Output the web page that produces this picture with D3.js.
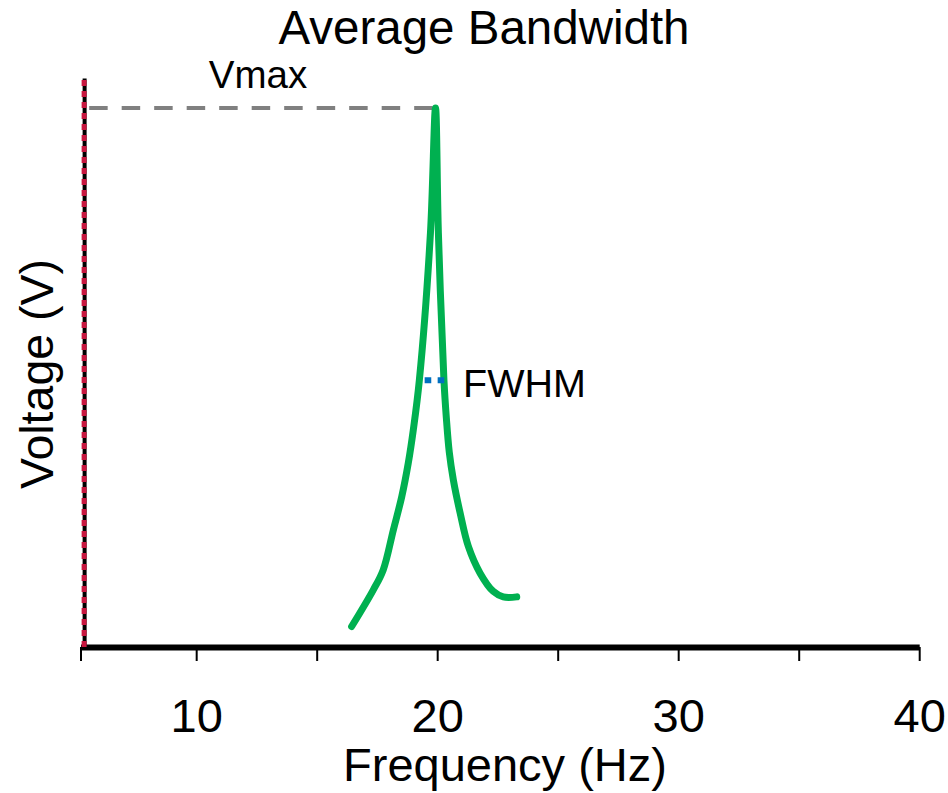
<!DOCTYPE html>
<html>
<head>
<meta charset="utf-8">
<script src="https://cdn.jsdelivr.net/npm/d3@7"></script>
<style>
  body { margin: 0; background: #fff; }
  text { font-family: "Liberation Sans", Arial, sans-serif; fill: #000; }
</style>
</head>
<body>
<div id="graph"></div>
<script>
// chart data (voltage normalised so that Vmax = 1)
const freqHz  = [16.45, 17.35, 17.76, 18.18, 18.53, 18.80, 19.01, 19.26, 19.72, 19.93, 20.05, 20.28, 20.38, 20.50, 20.67, 20.95, 21.29, 21.78, 22.33, 22.74, 23.30];
const voltage = [0.038, 0.106, 0.143, 0.217, 0.279, 0.341, 0.403, 0.495, 0.768, 1.000, 0.768, 0.495, 0.425, 0.362, 0.310, 0.249, 0.187, 0.137, 0.103, 0.093, 0.093];

const xTicks = [10, 15, 20, 25, 30, 35, 40];
const xTickLabels = ['10', '', '20', '', '30', '', '40'];
const xDomain = [5.2, 40];
const yDomain = [0, 1.0557];
const yAxisAt = 5.35;

const vMax = 1.0;
const vMaxFrom = 5.56;
const peakFreq = 19.93;
const halfMax = 0.495;
const fwhmRange = [19.48, 20.30];

const w = 948;
const h = 793;

const svg = d3.select('#graph')
              .append('svg')
              .attr('width', w)
              .attr('height', h);

const xScale = d3.scaleLinear().domain(xDomain).range([80.5, 919.2]);
const yScale = d3.scaleLinear().domain(yDomain).range([647, 78]);

// title
svg.append('text')
   .attr('x', 484)
   .attr('y', 44)
   .attr('text-anchor', 'middle')
   .style('font-size', '47.5px')
   .text('Average Bandwidth');

// x axis
const xAxis = d3.axisBottom(xScale)
                .tickValues([xDomain[0]].concat(xTicks))
                .tickFormat(d => { const i = xTicks.indexOf(d); return i < 0 ? '' : xTickLabels[i]; })
                .tickSize(14)
                .tickSizeOuter(0)
                .tickPadding(38);

const gx = svg.append('g')
   .attr('transform', 'translate(0,' + yScale(0) + ')')
   .call(xAxis);
gx.select('.domain').attr('stroke', '#000').attr('stroke-width', 6);
gx.selectAll('.tick line').attr('stroke', '#000').attr('stroke-width', 2);
gx.selectAll('.tick text')
  .attr('font-family', '"Liberation Sans", Arial, sans-serif')
  .style('font-size', '47px')
  .attr('fill', '#000');

// y axis (no ticks), black with red dashes on top
const yAxis = d3.axisLeft(yScale).tickValues([]).tickSizeOuter(0);
const gy = svg.append('g')
   .attr('transform', 'translate(' + xScale(yAxisAt) + ',0)')
   .call(yAxis);
gy.select('.domain').attr('stroke', '#000').attr('stroke-width', 4);

svg.append('line')
   .attr('x1', xScale(yAxisAt)).attr('x2', xScale(yAxisAt))
   .attr('y1', yScale(yDomain[1]) + 2).attr('y2', yScale(0))
   .attr('stroke', '#c8163f')
   .attr('stroke-width', 5)
   .attr('stroke-dasharray', '6 5');

// axis labels
svg.append('text')
   .attr('x', 505)
   .attr('y', 781)
   .attr('text-anchor', 'middle')
   .style('font-size', '47px')
   .text('Frequency (Hz)');

svg.append('text')
   .attr('transform', 'rotate(-90)')
   .attr('x', -374)
   .attr('y', 53)
   .attr('text-anchor', 'middle')
   .style('font-size', '46.5px')
   .text('Voltage (V)');

// Vmax dashed guide
svg.append('line')
   .attr('x1', xScale(vMaxFrom)).attr('x2', xScale(peakFreq))
   .attr('y1', yScale(vMax)).attr('y2', yScale(vMax))
   .attr('stroke', '#808080')
   .attr('stroke-width', 4)
   .attr('stroke-dasharray', '18.5 14');

svg.append('text')
   .attr('x', 258)
   .attr('y', 88)
   .attr('text-anchor', 'middle')
   .style('font-size', '38.5px')
   .text('Vmax');

// resonance curve
const line = d3.line()
               .x((d, i) => xScale(freqHz[i]))
               .y((d, i) => yScale(voltage[i]))
               .curve(d3.curveCatmullRom.alpha(0.5));

svg.append('path')
   .datum(freqHz)
   .attr('d', line)
   .attr('fill', 'none')
   .attr('stroke', '#00b050')
   .attr('stroke-width', 7)
   .attr('stroke-linecap', 'round')
   .attr('stroke-linejoin', 'round');

// FWHM marker
svg.append('line')
   .attr('x1', xScale(fwhmRange[0])).attr('x2', xScale(fwhmRange[1]))
   .attr('y1', yScale(halfMax)).attr('y2', yScale(halfMax))
   .attr('stroke', '#0070c0')
   .attr('stroke-width', 6)
   .attr('stroke-dasharray', '6.6 6.4');

svg.append('text')
   .attr('x', 463)
   .attr('y', 397)
   .style('font-size', '39.5px')
   .text('FWHM');
</script>
</body>
</html>
